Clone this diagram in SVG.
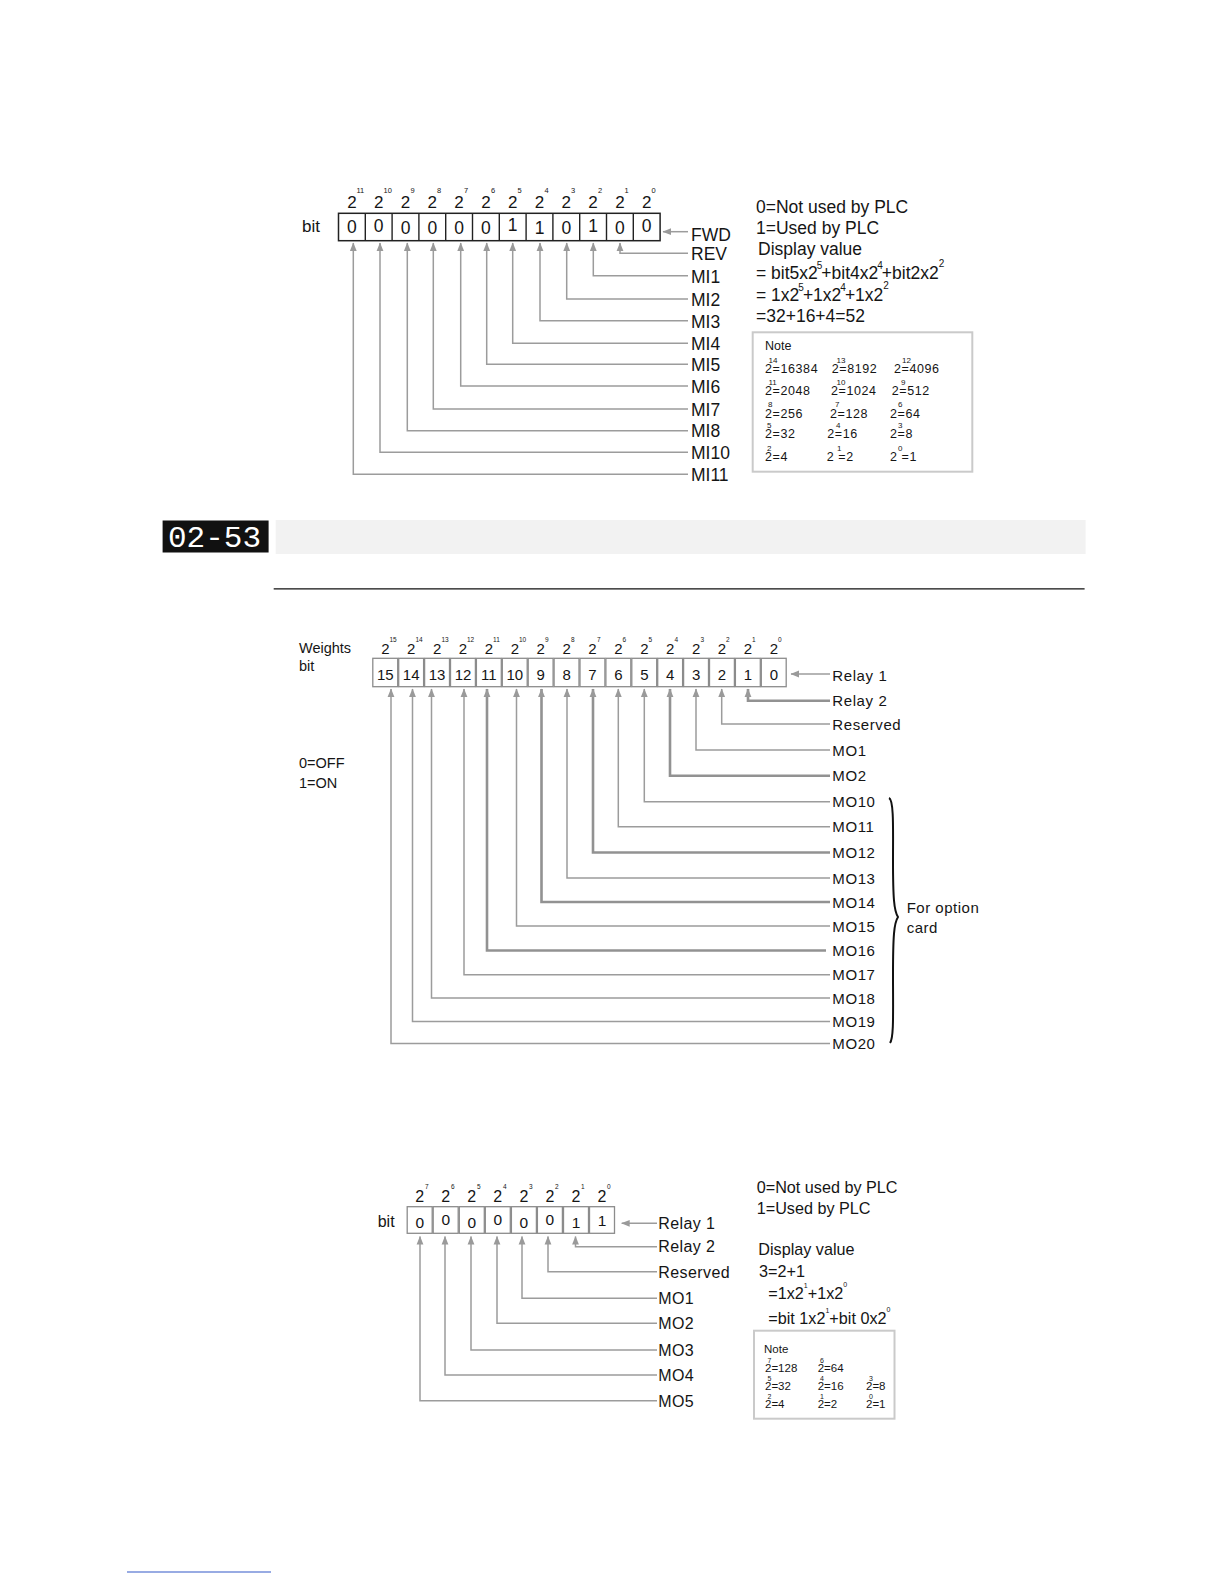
<svg xmlns="http://www.w3.org/2000/svg" width="1224" height="1584" viewBox="0 0 1224 1584">
<style>
.t{font-family:"Liberation Sans",Arial,sans-serif;fill:#151515}
.m{text-anchor:middle}
.conn{fill:none;stroke:#9c9c9c;stroke-width:1.5}
.thick{stroke-width:2.6;stroke:#929292}
.cell{fill:#fff;stroke:#8c8c8c;stroke-width:1.3}
.note{fill:#fff;stroke:#cacaca;stroke-width:2}
.sup{font-size:7.5px}
</style>
<defs>
<marker id="ah" markerUnits="userSpaceOnUse" markerWidth="9" markerHeight="8" refX="8" refY="4" orient="auto">
<path d="M0,0.6 L8.5,4 L0,7.4 z" fill="#9a9a9a"/>
</marker>
</defs>
<rect width="1224" height="1584" fill="#fff"/>

<!-- ========== TOP DIAGRAM ========== -->
<g id="top-weights" class="t">
<g font-size="17" class="m">
<text x="351.9" y="208.3">2</text><text x="378.7" y="208.3">2</text><text x="405.5" y="208.3">2</text><text x="432.3" y="208.3">2</text><text x="459.1" y="208.3">2</text><text x="485.9" y="208.3">2</text><text x="512.7" y="208.3">2</text><text x="539.5" y="208.3">2</text><text x="566.3" y="208.3">2</text><text x="593.1" y="208.3">2</text><text x="619.9" y="208.3">2</text><text x="646.7" y="208.3">2</text>
</g>
<g class="sup">
<text x="356.5" y="192.5">11</text><text x="383.5" y="192.5">10</text><text x="410.5" y="192.5">9</text><text x="437" y="192.5">8</text><text x="464" y="192.5">7</text><text x="491" y="192.5">6</text><text x="517.5" y="192.5">5</text><text x="544.5" y="192.5">4</text><text x="571" y="192.5">3</text><text x="598" y="192.5">2</text><text x="624.5" y="192.5">1</text><text x="651.5" y="192.5">0</text>
</g>
</g>
<g id="top-bitlabel"><text class="t" x="302" y="231.5" font-size="17">bit</text></g>
<g id="top-register">
<rect x="338.5" y="213.3" width="321.6" height="27.4" fill="#fff" stroke="#222" stroke-width="1.5"/>
<g stroke="#222" stroke-width="1.4">
<line x1="365.3" y1="213.3" x2="365.3" y2="240.7"/><line x1="392.1" y1="213.3" x2="392.1" y2="240.7"/><line x1="418.9" y1="213.3" x2="418.9" y2="240.7"/><line x1="445.7" y1="213.3" x2="445.7" y2="240.7"/><line x1="472.5" y1="213.3" x2="472.5" y2="240.7"/><line x1="499.3" y1="213.3" x2="499.3" y2="240.7"/><line x1="526.1" y1="213.3" x2="526.1" y2="240.7"/><line x1="552.9" y1="213.3" x2="552.9" y2="240.7"/><line x1="579.7" y1="213.3" x2="579.7" y2="240.7"/><line x1="606.5" y1="213.3" x2="606.5" y2="240.7"/><line x1="633.3" y1="213.3" x2="633.3" y2="240.7"/>
</g>
<g class="t m" font-size="17.5">
<text x="351.9" y="233">0</text><text x="378.7" y="231.5">0</text><text x="405.5" y="234">0</text><text x="432.3" y="234">0</text><text x="459.1" y="234">0</text><text x="485.9" y="234">0</text><text x="512.7" y="231">1</text><text x="539.5" y="234">1</text><text x="566.3" y="234">0</text><text x="593.1" y="232">1</text><text x="619.9" y="234">0</text><text x="646.7" y="232">0</text>
</g>
</g>

<g id="top-connectors">
<path class="conn" d="M688,231.7 H663" marker-end="url(#ah)"/>
<path class="conn" d="M688,253.3 H620 V243" marker-end="url(#ah)"/>
<path class="conn" d="M688,275.7 H593.3 V243" marker-end="url(#ah)"/>
<path class="conn" d="M688,299 H566.7 V243" marker-end="url(#ah)"/>
<path class="conn" d="M688,320.7 H540 V243" marker-end="url(#ah)"/>
<path class="conn" d="M688,343.3 H512.7 V243" marker-end="url(#ah)"/>
<path class="conn" d="M688,364.3 H486.7 V243" marker-end="url(#ah)"/>
<path class="conn" d="M688,386 H460.7 V243" marker-end="url(#ah)"/>
<path class="conn" d="M688,409 H433.3 V243" marker-end="url(#ah)"/>
<path class="conn" d="M688,430.7 H407.3 V243" marker-end="url(#ah)"/>
<path class="conn" d="M688,452.3 H380 V243" marker-end="url(#ah)"/>
<path class="conn" d="M688,474.3 H353.3 V243" marker-end="url(#ah)"/>
</g>

<g class="t" font-size="17.5">
<g id="lbl-FWD"><text x="691" y="240.5">FWD</text></g>
<g id="lbl-REV"><text x="691" y="260">REV</text></g>
<g id="lbl-MI1"><text x="691" y="282.5">MI1</text></g>
<g id="lbl-MI2"><text x="691" y="305.5">MI2</text></g>
<g id="lbl-MI3"><text x="691" y="327.5">MI3</text></g>
<g id="lbl-MI4"><text x="691" y="350">MI4</text></g>
<g id="lbl-MI5"><text x="691" y="371">MI5</text></g>
<g id="lbl-MI6"><text x="691" y="392.5">MI6</text></g>
<g id="lbl-MI7"><text x="691" y="415.5">MI7</text></g>
<g id="lbl-MI8"><text x="691" y="437">MI8</text></g>
<g id="lbl-MI10"><text x="691" y="459">MI10</text></g>
<g id="lbl-MI11"><text x="691" y="481">MI11</text></g>
</g>

<g id="top-explain" class="t" font-size="17.5">
<text x="756" y="212.5">0=Not used by PLC</text>
<text x="756" y="233.5">1=Used by PLC</text>
<text x="758" y="254.5">Display value</text>
<text x="756" y="278.5">= bit5x2<tspan font-size="10" dy="-10" dx="-1">5</tspan><tspan dy="10" dx="-1">+bit4x2</tspan><tspan font-size="10" dy="-10" dx="-1">4</tspan><tspan dy="10" dx="-1">+bit2x2</tspan><tspan font-size="10" dy="-12" dx="0">2</tspan></text>
<text x="756" y="300.5">= 1x2<tspan font-size="10" dy="-10" dx="-1">5</tspan><tspan dy="10" dx="-1">+1x2</tspan><tspan font-size="10" dy="-10" dx="-1">4</tspan><tspan dy="10" dx="-1">+1x2</tspan><tspan font-size="10" dy="-12" dx="0">2</tspan></text>
<text x="756" y="321.5">=32+16+4=52</text>
</g>

<g id="top-note">
<rect class="note" x="752.7" y="332.3" width="219.6" height="139.4"/>
<g class="t" font-size="12.5" letter-spacing="0.6">
<text x="765" y="350" letter-spacing="0">Note</text>
<text x="765" y="373.3">2=16384</text><text x="831.7" y="373.3">2=8192</text><text x="894" y="373.3">2=4096</text>
<text x="765" y="395">2=2048</text><text x="831" y="395">2=1024</text><text x="891.7" y="395">2=512</text>
<text x="765" y="417.7">2=256</text><text x="830" y="417.7">2=128</text><text x="890" y="417.7">2=64</text>
<text x="765" y="438.3">2=32</text><text x="827.3" y="438.3">2=16</text><text x="890" y="438.3">2=8</text>
<text x="765" y="461">2=4</text><text x="826.7" y="461">2 =2</text><text x="890" y="461">2 =1</text>
</g>
<g class="t" font-size="8">
<text x="768.5" y="363">14</text><text x="836.5" y="363">13</text><text x="902" y="363">12</text>
<text x="768.5" y="384.5">11</text><text x="836.5" y="384.5">10</text><text x="901" y="384.5">9</text>
<text x="768" y="407">8</text><text x="835" y="407">7</text><text x="898" y="407">6</text>
<text x="767" y="428">5</text><text x="836" y="428">4</text><text x="898" y="428">3</text>
<text x="767" y="450.5">2</text><text x="837" y="450.5">1</text><text x="898" y="450.5">0</text>
</g>
</g>

<!-- ========== HEADER 02-53 ========== -->
<g id="param-header">
<rect x="162.6" y="520.5" width="106" height="32" fill="#111"/>
<text x="168" y="547" font-family="'Liberation Mono','DejaVu Sans Mono',monospace" font-size="30" fill="#fff" textLength="93" lengthAdjust="spacingAndGlyphs">02-53</text>
<rect x="275.7" y="520" width="809.9" height="34" fill="#f2f2f2"/>
</g>
<g id="header-rule"><line x1="273.7" y1="588.8" x2="1084.6" y2="588.8" stroke="#111" stroke-width="1.3"/></g>

<!-- ========== MIDDLE DIAGRAM ========== -->
<g id="mid-side-text" class="t" font-size="14.5">
<text x="299" y="653">Weights</text>
<text x="299" y="670.5">bit</text>
<text x="299" y="768">0=OFF</text>
<text x="299" y="787.5">1=ON</text>
</g>
<g id="mid-weights" class="t">
<g font-size="15" class="m">
<text x="385.3" y="654.3">2</text><text x="411.2" y="654.3">2</text><text x="437.1" y="654.3">2</text><text x="463" y="654.3">2</text><text x="488.9" y="654.3">2</text><text x="514.8" y="654.3">2</text><text x="540.7" y="654.3">2</text><text x="566.6" y="654.3">2</text><text x="592.5" y="654.3">2</text><text x="618.4" y="654.3">2</text><text x="644.3" y="654.3">2</text><text x="670.2" y="654.3">2</text><text x="696.1" y="654.3">2</text><text x="722" y="654.3">2</text><text x="747.9" y="654.3">2</text><text x="773.8" y="654.3">2</text>
</g>
<g font-size="6.5">
<text x="389.5" y="641.5">15</text><text x="415.5" y="641.5">14</text><text x="441.5" y="641.5">13</text><text x="467" y="641.5">12</text><text x="493" y="641.5">11</text><text x="519" y="641.5">10</text><text x="545" y="641.5">9</text><text x="571" y="641.5">8</text><text x="597" y="641.5">7</text><text x="622.5" y="641.5">6</text><text x="648.5" y="641.5">5</text><text x="674.5" y="641.5">4</text><text x="700.5" y="641.5">3</text><text x="726" y="641.5">2</text><text x="752" y="641.5">1</text><text x="778" y="641.5">0</text>
</g>
</g>
<g id="mid-register">
<rect class="cell" x="372.8" y="658.3" width="24.9" height="28.4"/><rect class="cell" x="398.7" y="658.3" width="24.9" height="28.4"/><rect class="cell" x="424.6" y="658.3" width="24.9" height="28.4"/><rect class="cell" x="450.5" y="658.3" width="24.9" height="28.4"/><rect class="cell" x="476.4" y="658.3" width="24.9" height="28.4"/><rect class="cell" x="502.3" y="658.3" width="24.9" height="28.4"/><rect class="cell" x="528.2" y="658.3" width="24.9" height="28.4"/><rect class="cell" x="554.1" y="658.3" width="24.9" height="28.4"/><rect class="cell" x="580" y="658.3" width="24.9" height="28.4"/><rect class="cell" x="605.9" y="658.3" width="24.9" height="28.4"/><rect class="cell" x="631.8" y="658.3" width="24.9" height="28.4"/><rect class="cell" x="657.7" y="658.3" width="24.9" height="28.4"/><rect class="cell" x="683.6" y="658.3" width="24.9" height="28.4"/><rect class="cell" x="709.5" y="658.3" width="24.9" height="28.4"/><rect class="cell" x="735.4" y="658.3" width="24.9" height="28.4"/><rect class="cell" x="761.3" y="658.3" width="24.9" height="28.4"/>
<g class="t m" font-size="15">
<text x="385.3" y="679.5">15</text><text x="411.2" y="679.5">14</text><text x="437.1" y="679.5">13</text><text x="463" y="679.5">12</text><text x="488.9" y="679.5">11</text><text x="514.8" y="679.5">10</text><text x="540.7" y="679.5">9</text><text x="566.6" y="679.5">8</text><text x="592.5" y="679.5">7</text><text x="618.4" y="679.5">6</text><text x="644.3" y="679.5">5</text><text x="670.2" y="679.5">4</text><text x="696.1" y="679.5">3</text><text x="722" y="679.5">2</text><text x="747.9" y="679.5">1</text><text x="773.8" y="679.5">0</text>
</g>
</g>

<g id="mid-connectors">
<path class="conn" d="M830,674 H791" marker-end="url(#ah)"/>
<path class="conn thick" d="M830,700.7 H748 V689" marker-end="url(#ah)"/>
<path class="conn" d="M830,724 H721.7 V689" marker-end="url(#ah)"/>
<path class="conn" d="M830,750 H696 V689" marker-end="url(#ah)"/>
<path class="conn thick" d="M830,775.7 H670 V689" marker-end="url(#ah)"/>
<path class="conn" d="M830,801.7 H644.3 V689" marker-end="url(#ah)"/>
<path class="conn" d="M830,826.7 H618.3 V689" marker-end="url(#ah)"/>
<path class="conn thick" d="M830,852.5 H593 V689" marker-end="url(#ah)"/>
<path class="conn" d="M830,878 H567 V689" marker-end="url(#ah)"/>
<path class="conn thick" d="M830,902 H541.5 V689" marker-end="url(#ah)"/>
<path class="conn" d="M830,926 H516.5 V689" marker-end="url(#ah)"/>
<path class="conn thick" d="M826,950.5 H487 V689" marker-end="url(#ah)"/>
<path class="conn" d="M830,974.8 H464 V689" marker-end="url(#ah)"/>
<path class="conn" d="M830,998 H431.5 V689" marker-end="url(#ah)"/>
<path class="conn" d="M830,1021.5 H412.5 V689" marker-end="url(#ah)"/>
<path class="conn" d="M830,1043.5 H391 V689" marker-end="url(#ah)"/>
</g>

<g class="t" font-size="15" letter-spacing="0.6">
<g id="lbl-Relay1-mid"><text x="832.3" y="680.5">Relay 1</text></g>
<g id="lbl-Relay2-mid"><text x="832.3" y="706">Relay 2</text></g>
<g id="lbl-Reserved-mid"><text x="832.3" y="730">Reserved</text></g>
<g id="lbl-MO1-mid"><text x="832.3" y="755.5">MO1</text></g>
<g id="lbl-MO2-mid"><text x="832.3" y="781">MO2</text></g>
<g id="lbl-MO10"><text x="832.3" y="807">MO10</text></g>
<g id="lbl-MO11"><text x="832.3" y="832">MO11</text></g>
<g id="lbl-MO12"><text x="832.3" y="858">MO12</text></g>
<g id="lbl-MO13"><text x="832.3" y="883.5">MO13</text></g>
<g id="lbl-MO14"><text x="832.3" y="907.5">MO14</text></g>
<g id="lbl-MO15"><text x="832.3" y="931.5">MO15</text></g>
<g id="lbl-MO16"><text x="832.3" y="956">MO16</text></g>
<g id="lbl-MO17"><text x="832.3" y="980">MO17</text></g>
<g id="lbl-MO18"><text x="832.3" y="1003.5">MO18</text></g>
<g id="lbl-MO19"><text x="832.3" y="1027">MO19</text></g>
<g id="lbl-MO20"><text x="832.3" y="1049">MO20</text></g>
</g>

<g id="option-brace">
<path d="M889,798 C894,800 893,830 893,860 C893,898 894,911 898,917 C894,923 893,936 893,975 C893,1012 894,1038 890,1043" fill="none" stroke="#111" stroke-width="2"/>
<text class="t" x="906.7" y="912.7" font-size="15" letter-spacing="0.5">For option</text>
<text class="t" x="906.7" y="933.3" font-size="15" letter-spacing="0.5">card</text>
</g>

<!-- ========== BOTTOM DIAGRAM ========== -->
<g id="bot-weights" class="t">
<g font-size="16" class="m">
<text x="419.7" y="1202.3">2</text><text x="445.8" y="1202.3">2</text><text x="471.8" y="1202.3">2</text><text x="497.8" y="1202.3">2</text><text x="523.9" y="1202.3">2</text><text x="549.9" y="1202.3">2</text><text x="576" y="1202.3">2</text><text x="602" y="1202.3">2</text>
</g>
<g font-size="6.5">
<text x="425" y="1188.5">7</text><text x="451" y="1188.5">6</text><text x="477" y="1188.5">5</text><text x="503" y="1188.5">4</text><text x="529" y="1188.5">3</text><text x="555" y="1188.5">2</text><text x="581" y="1188.5">1</text><text x="607" y="1188.5">0</text>
</g>
</g>
<g id="bot-bitlabel"><text class="t" x="377.7" y="1227.3" font-size="16">bit</text></g>
<g id="bot-register">
<rect class="cell" x="407.2" y="1206.7" width="25" height="26.6"/><rect class="cell" x="433.2" y="1206.7" width="25" height="26.6"/><rect class="cell" x="459.3" y="1206.7" width="25" height="26.6"/><rect class="cell" x="485.3" y="1206.7" width="25" height="26.6"/><rect class="cell" x="511.4" y="1206.7" width="25" height="26.6"/><rect class="cell" x="537.4" y="1206.7" width="25" height="26.6"/><rect class="cell" x="563.5" y="1206.7" width="25" height="26.6"/><rect class="cell" x="589.5" y="1206.7" width="25" height="26.6"/>
<g class="t m" font-size="15.5">
<text x="419.7" y="1228">0</text><text x="445.8" y="1225">0</text><text x="471.8" y="1228">0</text><text x="497.8" y="1225">0</text><text x="523.9" y="1228">0</text><text x="549.9" y="1225">0</text><text x="576" y="1228">1</text><text x="602" y="1226">1</text>
</g>
</g>

<g id="bot-connectors">
<path class="conn" d="M657,1223.3 H621.7" marker-end="url(#ah)"/>
<path class="conn" d="M657,1246.7 H575.5 V1236.5" marker-end="url(#ah)"/>
<path class="conn" d="M657,1271.7 H548 V1236.5" marker-end="url(#ah)"/>
<path class="conn" d="M657,1298.3 H522 V1236.5" marker-end="url(#ah)"/>
<path class="conn" d="M657,1323.3 H497 V1236.5" marker-end="url(#ah)"/>
<path class="conn" d="M657,1350 H471 V1236.5" marker-end="url(#ah)"/>
<path class="conn" d="M657,1375 H445 V1236.5" marker-end="url(#ah)"/>
<path class="conn" d="M657,1400.7 H420 V1236.5" marker-end="url(#ah)"/>
</g>

<g class="t" font-size="16" letter-spacing="0.4">
<g id="lbl-Relay1-bot"><text x="658.3" y="1229">Relay 1</text></g>
<g id="lbl-Relay2-bot"><text x="658.3" y="1252.3">Relay 2</text></g>
<g id="lbl-Reserved-bot"><text x="658.3" y="1277.5">Reserved</text></g>
<g id="lbl-MO1-bot"><text x="658.3" y="1304">MO1</text></g>
<g id="lbl-MO2-bot"><text x="658.3" y="1329">MO2</text></g>
<g id="lbl-MO3"><text x="658.3" y="1355.5">MO3</text></g>
<g id="lbl-MO4"><text x="658.3" y="1380.5">MO4</text></g>
<g id="lbl-MO5"><text x="658.3" y="1406.5">MO5</text></g>
</g>

<g id="bot-explain" class="t" font-size="16.2">
<text x="756.7" y="1193.3">0=Not used by PLC</text>
<text x="756.7" y="1214.3">1=Used by PLC</text>
<text x="758.3" y="1255">Display value</text>
<text x="759" y="1277">3=2+1</text>
<text x="768.3" y="1298.5">=1x2<tspan font-size="7" dy="-11" dx="0">1</tspan><tspan dy="11" dx="0">+1x2</tspan><tspan font-size="7" dy="-12" dx="0">0</tspan></text>
<text x="768.3" y="1323.5">=bit 1x2<tspan font-size="7" dy="-11" dx="0">1</tspan><tspan dy="11" dx="0">+bit 0x2</tspan><tspan font-size="7" dy="-12" dx="0">0</tspan></text>
</g>

<g id="bot-note">
<rect class="note" x="754" y="1330.7" width="140.5" height="88"/>
<g class="t" font-size="11.5">
<text x="764" y="1353">Note</text>
<text x="765" y="1372">2=128</text><text x="817.7" y="1372">2=64</text>
<text x="765" y="1390">2=32</text><text x="817.7" y="1390">2=16</text><text x="866" y="1390">2=8</text>
<text x="765" y="1408">2=4</text><text x="817.7" y="1408">2=2</text><text x="866" y="1408">2=1</text>
</g>
<g class="t" font-size="7">
<text x="767.5" y="1363">7</text><text x="820" y="1363">6</text>
<text x="767.5" y="1381">5</text><text x="820" y="1381">4</text><text x="869" y="1381">3</text>
<text x="767.5" y="1399">2</text><text x="820" y="1399">1</text><text x="869" y="1399">0</text>
</g>
</g>

<g id="footer-link"><line x1="127" y1="1572" x2="271" y2="1572" stroke="#3358c8" stroke-width="1.2"/></g>
</svg>
